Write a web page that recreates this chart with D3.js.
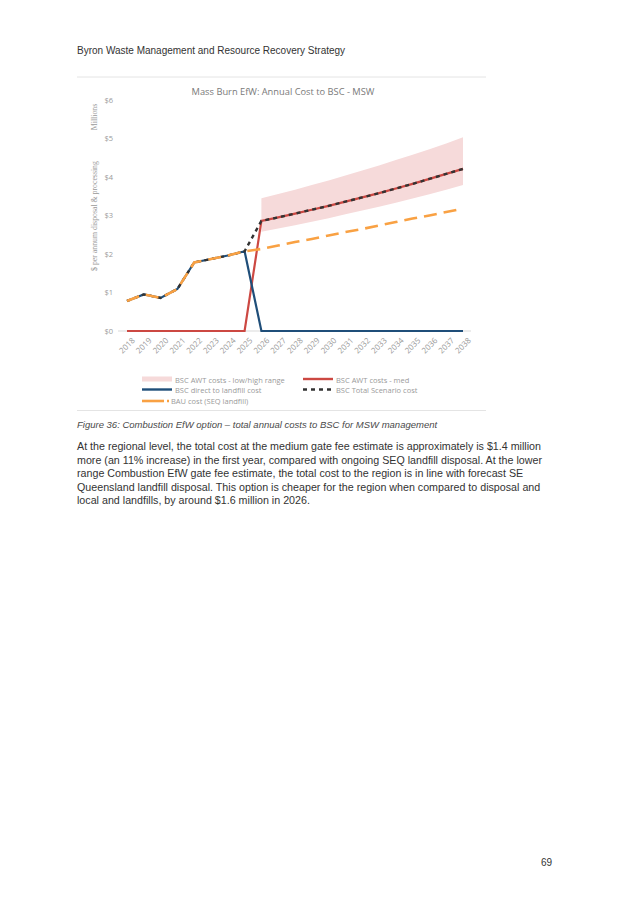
<!DOCTYPE html>
<html>
<head>
<meta charset="utf-8">
<script src="https://cdn.jsdelivr.net/npm/d3@7"></script>
<style>
  body { margin: 0; background: #fff; }
  svg { display: block; }
</style>
</head>
<body>
<div id="page"></div>
<script>
// chart data (values in $ millions)
var years = [2018, 2019, 2020, 2021, 2022, 2023, 2024, 2025, 2026, 2027, 2028,
             2029, 2030, 2031, 2032, 2033, 2034, 2035, 2036, 2037, 2038];
var bauCost = [0.78, 0.95, 0.86, 1.09, 1.78, 1.87, 1.96, 2.07, 2.13, 2.22, 2.31,
               2.39, 2.48, 2.57, 2.65, 2.74, 2.83, 2.92, 3.00, 3.09, 3.18];
var directLandfill = [0.78, 0.95, 0.86, 1.09, 1.78, 1.87, 1.96, 2.07, 0, 0, 0,
                      0, 0, 0, 0, 0, 0, 0, 0, 0, 0];
var awtMed = [0, 0, 0, 0, 0, 0, 0, 0, 2.86, 2.95, 3.05,
              3.15, 3.25, 3.36, 3.47, 3.58, 3.70, 3.82, 3.95, 4.08, 4.21];
var awtLow = [null, null, null, null, null, null, null, null, 2.58, 2.66, 2.75,
              2.84, 2.93, 3.03, 3.13, 3.23, 3.33, 3.44, 3.55, 3.67, 3.79];
var awtHigh = [null, null, null, null, null, null, null, null, 3.45, 3.56, 3.67,
               3.79, 3.91, 4.04, 4.17, 4.30, 4.44, 4.58, 4.72, 4.87, 5.03];
var totalScenario = [0.78, 0.95, 0.86, 1.09, 1.78, 1.87, 1.96, 2.07, 2.86, 2.95, 3.05,
                     3.15, 3.25, 3.36, 3.47, 3.58, 3.70, 3.82, 3.95, 4.08, 4.21];
var yTicks = [0, 1, 2, 3, 4, 5, 6];

var legendItems = [
  {label: "BSC AWT costs - low/high range", kind: "band"},
  {label: "BSC AWT costs - med", kind: "med"},
  {label: "BSC direct to landfill cost", kind: "direct"},
  {label: "BSC Total Scenario cost", kind: "total"},
  {label: "BAU cost (SEQ landfill)", kind: "bau"}
];

var paragraph = [
  "At the regional level, the total cost at the medium gate fee estimate is approximately is $1.4 million",
  "more (an 11% increase) in the first year, compared with ongoing SEQ landfill disposal. At the lower",
  "range Combustion EfW gate fee estimate, the total cost to the region is in line with forecast SE",
  "Queensland landfill disposal. This option is cheaper for the region when compared to disposal and",
  "local and landfills, by around $1.6 million in 2026."
];

var colors = {
  band: "#f6dada",
  med: "#cc4842",
  direct: "#1f4e79",
  total: "#333333",
  bau: "#f9a143"
};

var svg = d3.select("#page").append("svg")
    .attr("width", 638)
    .attr("height", 900);

// page header
svg.append("text")
    .attr("x", 77).attr("y", 54)
    .attr("font-family", "Liberation Sans, Arial, sans-serif")
    .attr("font-size", 10)
    .attr("fill", "#333")
    .text("Byron Waste Management and Resource Recovery Strategy");

// frame rules around the figure
svg.append("line").attr("x1", 77).attr("x2", 486).attr("y1", 77).attr("y2", 77)
    .attr("stroke", "#e4e4e4").attr("stroke-width", 1);
svg.append("line").attr("x1", 77).attr("x2", 486).attr("y1", 410.5).attr("y2", 410.5)
    .attr("stroke", "#e4e4e4").attr("stroke-width", 1);

var chartFont = "Open Sans, Lato, sans-serif";
var chartGrey = "#9a9a9a";

// scales
var x = d3.scalePoint().domain(years).range([127, 463]);
var y = d3.scaleLinear().domain([0, 6]).range([331, 100]);

// title
svg.append("text")
    .attr("x", 283).attr("y", 95)
    .attr("text-anchor", "middle")
    .attr("font-family", chartFont)
    .attr("font-size", 9.3)
    .attr("fill", "#7a7a7a")
    .text("Mass Burn EfW: Annual Cost to BSC  - MSW");

// y axis (labels only, no line)
var yAxis = svg.append("g")
    .attr("transform", "translate(113,0)")
    .call(d3.axisLeft(y).tickValues(yTicks).tickSize(0).tickPadding(0)
          .tickFormat(function (d) { return "$" + d; }));
yAxis.select(".domain").remove();
yAxis.selectAll("text")
    .attr("font-family", chartFont)
    .attr("font-size", 7.5)
    .attr("fill", chartGrey);

// y axis titles
svg.append("text")
    .attr("transform", "translate(97,216) rotate(-90)")
    .attr("text-anchor", "middle")
    .attr("font-family", "Liberation Serif, serif")
    .attr("font-size", 7.8)
    .attr("fill", chartGrey)
    .text("$ per annum disposal & processing");
svg.append("text")
    .attr("transform", "translate(97,117) rotate(-90)")
    .attr("text-anchor", "middle")
    .attr("font-family", "Liberation Serif, serif")
    .attr("font-size", 7.8)
    .attr("fill", chartGrey)
    .text("Millions");

// baseline
svg.append("line")
    .attr("x1", 118).attr("x2", 471)
    .attr("y1", y(0)).attr("y2", y(0))
    .attr("stroke", "#d9d9d9").attr("stroke-width", 1);

// x axis labels
var xAxis = svg.append("g")
    .attr("transform", "translate(0," + (y(0) + 6) + ")")
    .call(d3.axisBottom(x).tickSize(0).tickPadding(0));
xAxis.select(".domain").remove();
xAxis.selectAll("text")
    .attr("font-family", chartFont)
    .attr("font-size", 8)
    .attr("fill", chartGrey)
    .attr("text-anchor", "end")
    .attr("dy", "0.7em")
    .attr("transform", "translate(4,0) rotate(-45)");

var idx = d3.range(years.length);

// low/high band
var area = d3.area()
    .defined(function (i) { return awtLow[i] != null; })
    .x(function (i) { return x(years[i]); })
    .y0(function (i) { return y(awtLow[i]); })
    .y1(function (i) { return y(awtHigh[i]); });
svg.append("path")
    .attr("d", area(idx))
    .attr("fill", colors.band);

function lineOf(values) {
  return d3.line()
    .x(function (i) { return x(years[i]); })
    .y(function (i) { return y(values[i]); })(idx);
}

svg.append("path").attr("d", lineOf(awtMed))
    .attr("fill", "none").attr("stroke", colors.med).attr("stroke-width", 2.2);
svg.append("path").attr("d", lineOf(directLandfill))
    .attr("fill", "none").attr("stroke", colors.direct).attr("stroke-width", 2.2);
svg.append("path").attr("d", lineOf(totalScenario))
    .attr("fill", "none").attr("stroke", colors.total).attr("stroke-width", 2.4)
    .attr("stroke-dasharray", "4,4");
svg.append("path").attr("d", lineOf(bauCost))
    .attr("fill", "none").attr("stroke", colors.bau).attr("stroke-width", 2.6)
    .attr("stroke-dasharray", "13,7");

// legend
var legendPos = [
  {sx: 142, tx: 175, y: 380},
  {sx: 303, tx: 336, y: 380},
  {sx: 142, tx: 175, y: 390.5},
  {sx: 303, tx: 336, y: 390.5},
  {sx: 142, tx: 171, y: 401}
];
var legend = svg.append("g");
legendItems.forEach(function (d, i) {
  var p = legendPos[i];
  if (d.kind === "band") {
    legend.append("rect").attr("x", p.sx).attr("y", p.y - 3.5)
      .attr("width", 30).attr("height", 5).attr("fill", colors.band);
  } else if (d.kind === "bau") {
    legend.append("line").attr("x1", p.sx).attr("x2", p.sx + 22)
      .attr("y1", p.y).attr("y2", p.y)
      .attr("stroke", colors.bau).attr("stroke-width", 2.6);
    legend.append("line").attr("x1", p.sx + 25).attr("x2", p.sx + 27)
      .attr("y1", p.y).attr("y2", p.y)
      .attr("stroke", colors.bau).attr("stroke-width", 2.6);
  } else {
    legend.append("line").attr("x1", p.sx).attr("x2", p.sx + 30)
      .attr("y1", p.y - 1).attr("y2", p.y - 1)
      .attr("stroke", colors[d.kind]).attr("stroke-width", 2.4)
      .attr("stroke-dasharray", d.kind === "total" ? "4,4" : null);
  }
  legend.append("text")
    .attr("x", p.tx).attr("y", p.y + 2.5)
    .attr("font-family", chartFont)
    .attr("font-size", 7.5)
    .attr("fill", chartGrey)
    .text(d.label);
});

// caption
svg.append("text")
    .attr("x", 77).attr("y", 428)
    .attr("font-family", "Liberation Sans, Arial, sans-serif")
    .attr("font-size", 9.5)
    .attr("font-style", "italic")
    .attr("fill", "#4a4a4a")
    .text("Figure 36: Combustion EfW option \u2013 total annual costs to BSC for MSW management");

// body paragraph
svg.append("g").selectAll("text")
  .data(paragraph)
  .enter().append("text")
    .attr("x", 77)
    .attr("y", function (d, i) { return 450 + i * 13.6; })
    .attr("font-family", "Liberation Sans, Arial, sans-serif")
    .attr("font-size", 10.7)
    .attr("fill", "#333")
    .text(function (d) { return d; });

// page number
svg.append("text")
    .attr("x", 552).attr("y", 866)
    .attr("text-anchor", "end")
    .attr("font-family", "Liberation Sans, Arial, sans-serif")
    .attr("font-size", 10)
    .attr("fill", "#333")
    .text("69");
</script>
</body>
</html>
